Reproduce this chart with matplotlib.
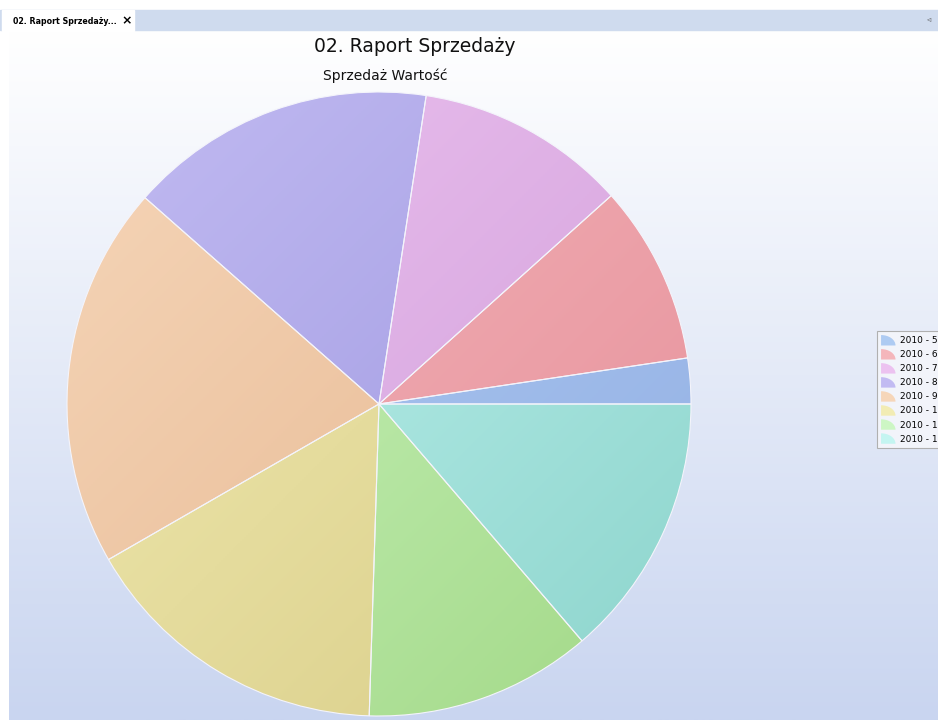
import matplotlib
matplotlib.use("Agg")
import matplotlib.pyplot as plt
import numpy as np
from matplotlib.colors import LinearSegmentedColormap
from matplotlib.patches import Wedge, Rectangle
from matplotlib.legend_handler import HandlerPatch
from matplotlib.transforms import Affine2D

# Data (sales value per month)
months = ["2010 - 5", "2010 - 6", "2010 - 7", "2010 - 8",
          "2010 - 9", "2010 - 10", "2010 - 11", "2010 - 12"]
sales = [8.5, 33.4, 39.4, 57.3, 71.3, 58.3, 42.4, 49.4]

# Light / dark shade of each slice (gradient)
light_colors = ["#aecbf2", "#f4b6bb", "#ecc2f0", "#c2bbf2",
                "#f6d6b9", "#f2ecb4", "#cdf6c4", "#c4f5f1"]
dark_colors = ["#94b0e4", "#e6909a", "#cf9cd8", "#9a94de",
               "#e4b48c", "#d8cc86", "#a2d886", "#8cd4cc"]

W, H = 938, 720
fig = plt.figure(figsize=(W / 100, H / 100), dpi=100)

# Background: window tab strip + panel with vertical gradient
bg = fig.add_axes([0, 0, 1, 1])
bg.set_xlim(0, W)
bg.set_ylim(H, 0)
bg.axis("off")
grad = np.linspace(0, 1, 256).reshape(-1, 1)
bg_cmap = LinearSegmentedColormap.from_list("bg", ["#ffffff", "#c9d5f0"])
bg.imshow(grad, cmap=bg_cmap, extent=[9, W, H, 30], aspect="auto", zorder=0)
bg.add_patch(Rectangle((0, 10), W, 20, color="#cfdbee", zorder=1))
bg.add_patch(Rectangle((2, 10), 132, 21, color="#ffffff", zorder=2))
bg.text(13, 21, "02. Raport Sprzedaży...", fontsize=5.7, fontweight="bold",
        va="center", ha="left", zorder=3)
bg.text(127, 21, "×", fontsize=9, fontweight="bold", va="center",
        ha="center", zorder=3)
bg.text(929, 19, "◃", fontsize=6, va="center", ha="center", color="#555555",
        zorder=3)

# Titles
fig.text(415 / W, 1 - 47 / H, "02. Raport Sprzedaży", fontsize=13.5,
         ha="center", va="center", color="#111111")
fig.text(385 / W, 1 - 76 / H, "Sprzedaż Wartość", fontsize=10,
         ha="center", va="center", color="#111111")

# Pie axes: centre (379, 404) px, radius 312 px
cx, cy, r = 379, 404, 312
ax = fig.add_axes([(cx - r) / W, (H - cy - r) / H, 2 * r / W, 2 * r / H])
ax.patch.set_alpha(0)
wedges, _ = ax.pie(sales, startangle=0, counterclock=True,
                   colors=dark_colors,
                   wedgeprops=dict(edgecolor="#f4f4fb", linewidth=0.8))
ax.set_xlim(-1, 1)
ax.set_ylim(-1, 1)
ax.set_aspect("equal")
ax.axis("off")

# Diagonal gradient inside every slice (light top-left, dark bottom-right)
yy, xx = np.mgrid[1:-1:300j, -1:1:300j]
diag = ((xx - yy) + 2) / 4
for w, c1, c2 in zip(wedges, light_colors, dark_colors):
    cm = LinearSegmentedColormap.from_list("s", [c1, c2])
    im = ax.imshow(diag, cmap=cm, extent=[-1, 1, -1, 1], origin="upper",
                   zorder=w.get_zorder() + 0.1, interpolation="bilinear")
    im.set_clip_path(w)
    w.set_facecolor("none")
    w.set_zorder(w.get_zorder() + 0.2)


# Quarter-circle legend icons (centre bottom-left, stretched to the box)
class QuarterHandler(HandlerPatch):
    def create_artists(self, legend, orig_handle, xdescent, ydescent,
                       width, height, fontsize, trans):
        p = Wedge((0, 0), 1, 0, 90, facecolor=orig_handle.get_facecolor(),
                  edgecolor="none")
        p.set_transform(Affine2D().scale(width, height)
                        .translate(-xdescent, -ydescent) + trans)
        return [p]


handles = [Wedge((0, 0), 1, 0, 90, facecolor=c) for c in light_colors]
leg = fig.legend(handles, months, loc="upper left",
                 bbox_to_anchor=(877 / W, 1 - 331 / H),
                 handler_map={Wedge: QuarterHandler()},
                 fontsize=6.5, handlelength=1.6, handleheight=1.4,
                 handletextpad=0.5, labelspacing=0.4, borderpad=0.45,
                 borderaxespad=0, fancybox=False, framealpha=1,
                 edgecolor="#b0b0b0")
leg.get_frame().set_linewidth(0.8)
leg.get_frame().set_facecolor("#f2f4fa")

fig.savefig("out.png", dpi=100)
